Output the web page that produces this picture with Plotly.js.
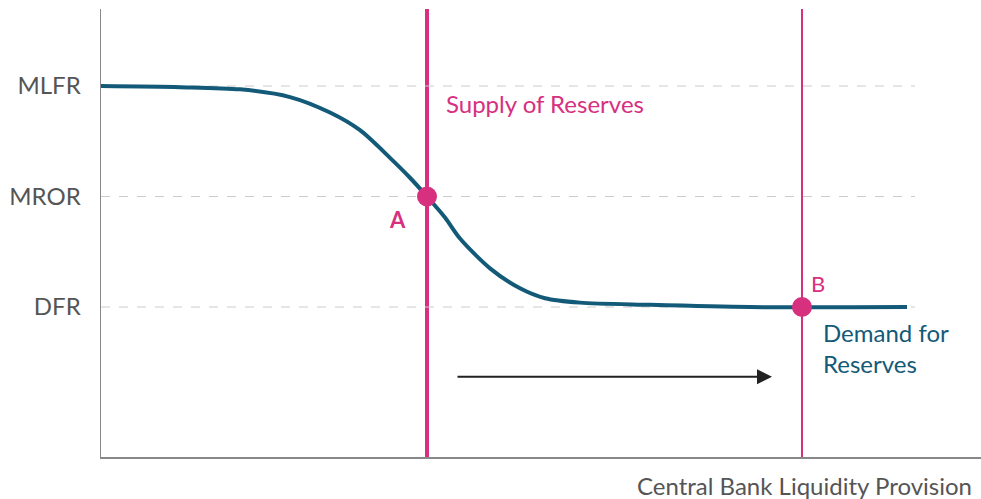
<!DOCTYPE html>
<html>
<head>
<meta charset="utf-8">
<script src="https://cdn.plot.ly/plotly-3.0.1.min.js"></script>
<style>html,body{margin:0;padding:0;background:#fff;}#chart{width:981px;height:499px;}</style>
</head>
<body>
<div id="chart"></div>
<script>
// Data
var rateLabels = ['DFR', 'MROR', 'MLFR'];
var rateValues = [1, 2, 3];
var demandX = [0, 7.9, 13.9, 18.9, 22.9, 25.9, 28.9, 30.9, 32.6, 34.4, 35.9, 38.9, 41.9, 44.4, 47.9, 54.9, 64.9, 80.6];
var demandY = [3, 2.99, 2.97, 2.90, 2.76, 2.60, 2.35, 2.17, 2.0, 1.81, 1.62, 1.35, 1.17, 1.08, 1.04, 1.02, 1.0, 1.0];
var supplyA = 32.6;   // initial liquidity provision
var supplyB = 70.1;   // expanded liquidity provision
var pointsX = [supplyA, supplyB];
var pointsY = [2, 1];
var pointLabels = ['A', 'B'];
var gridEnd = 81.4;
var arrowFrom = 35.5, arrowTo = 67.1, arrowY = 0.37;

var pink = '#d6307f';
var teal = '#135a78';
var font = 'Lato, "Open Sans", sans-serif';

var traces = [
  { x: demandX, y: demandY, mode: 'lines', line: {color: teal, width: 4, shape: 'spline', smoothing: 0.8}, hoverinfo: 'skip', showlegend: false },
  { x: pointsX, y: pointsY, mode: 'markers', marker: {color: pink, size: 20}, hoverinfo: 'skip', showlegend: false }
];

var shapes = rateValues.map(function(v){
  return {type: 'line', xref: 'x', yref: 'y', x0: 0, x1: gridEnd, y0: v, y1: v, line: {color: '#cccccc', width: 1, dash: 'dash'}, layer: 'below'};
});
shapes.push({type: 'line', xref: 'x', yref: 'paper', x0: supplyA, x1: supplyA, y0: 0, y1: 1, line: {color: pink, width: 4}, layer: 'below'});
shapes.push({type: 'line', xref: 'x', yref: 'paper', x0: supplyB, x1: supplyB, y0: 0, y1: 1, line: {color: pink, width: 2}, layer: 'below'});

var annotations = [
  {x: supplyA + 1.7, y: 2.84, xref: 'x', yref: 'y', text: 'Supply of Reserves', showarrow: false, xanchor: 'left', yanchor: 'middle', font: {family: font, size: 24, color: pink}},
  {x: supplyA - 3.0, y: 1.79, xref: 'x', yref: 'y', text: '<b>' + pointLabels[0] + '</b>', showarrow: false, xanchor: 'center', yanchor: 'middle', font: {family: font, size: 22, color: pink}},
  {x: supplyB + 1.6, y: 1.21, xref: 'x', yref: 'y', text: pointLabels[1], showarrow: false, xanchor: 'center', yanchor: 'middle', font: {family: font, size: 22, color: pink}},
  {x: supplyB + 1.9, y: 0.633, xref: 'x', yref: 'y', text: 'Demand for<br>Reserves', showarrow: false, xanchor: 'left', yanchor: 'middle', align: 'left', font: {family: font, size: 24, color: teal}},
  {x: arrowTo, y: arrowY, ax: arrowFrom, ay: arrowY, xref: 'x', yref: 'y', axref: 'x', ayref: 'y', text: '', showarrow: true, arrowhead: 2, arrowsize: 1.5, arrowwidth: 2, arrowcolor: '#222'},
  {x: 1, y: 0, xref: 'paper', yref: 'paper', text: 'Central Bank Liquidity Provision', showarrow: false, xanchor: 'right', yanchor: 'middle', xshift: -7, yshift: -28, font: {family: font, size: 24, color: '#555'}}
];

var layout = {
  width: 981, height: 499,
  margin: {l: 101, r: 0, t: 9, b: 42, pad: 0},
  paper_bgcolor: '#fff', plot_bgcolor: '#fff',
  xaxis: {range: [0, 88], showgrid: false, zeroline: false, showticklabels: false, ticks: '', showline: true, linecolor: '#888', linewidth: 1.5, fixedrange: true},
  yaxis: {range: [-0.357, 3.697], showgrid: false, zeroline: false, tickvals: rateValues, ticktext: rateLabels, ticks: '', ticklabelstandoff: 14, tickfont: {family: font, size: 24, color: '#555'}, showline: true, linecolor: '#888', linewidth: 1.5, fixedrange: true},
  shapes: shapes,
  annotations: annotations,
  showlegend: false
};

Plotly.newPlot('chart', traces, layout, {displayModeBar: false, staticPlot: true});
</script>
</body>
</html>
